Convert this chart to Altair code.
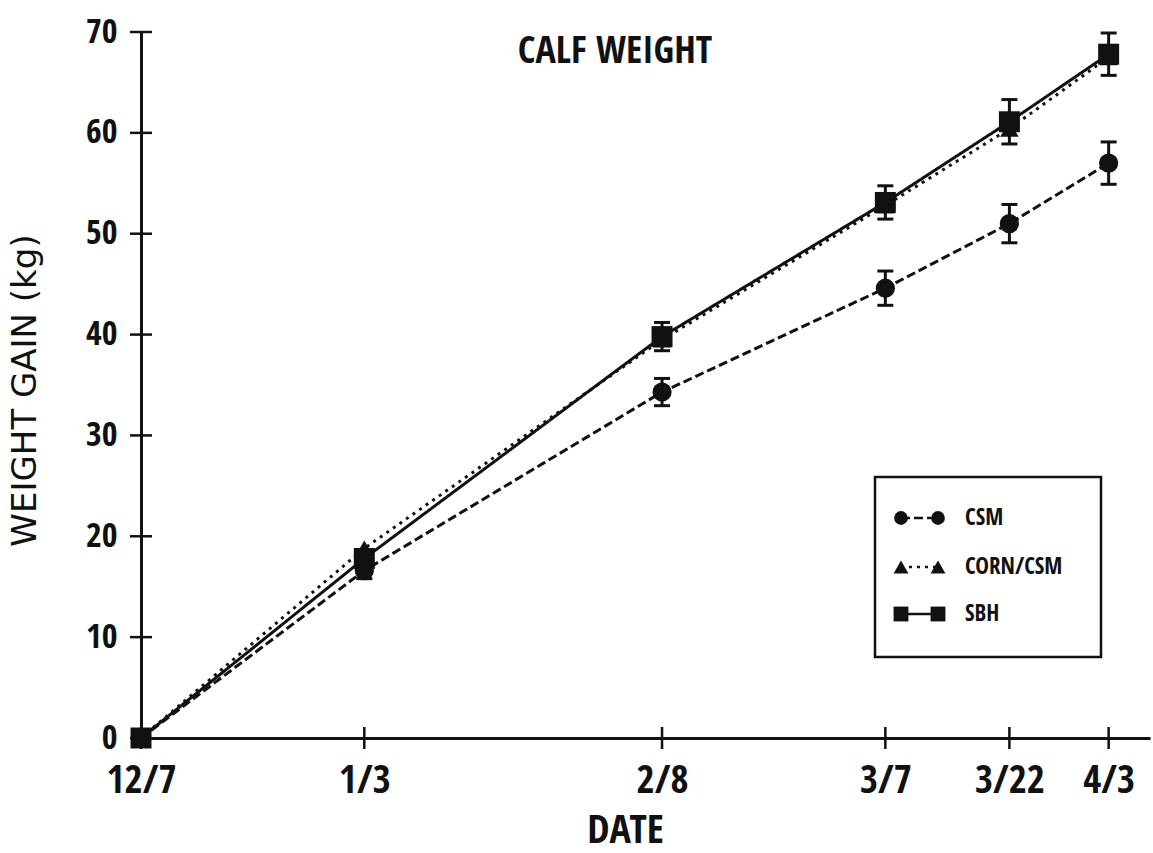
import json
import altair as alt
import pandas as pd

# Days since 12/7 for each weighing, and the date labels shown on the axis
days = [0, 27, 63, 90, 105, 117]
date_labels = ["12/7", "1/3", "2/8", "3/7", "3/22", "4/3"]

# Mean weight gain (kg) per treatment
csm = [0, 16.6, 34.3, 44.6, 51.0, 57.0]
corn_csm = [0, 18.8, 39.5, 52.8, 60.4, 67.5]
sbh = [0, 17.8, 39.8, 53.1, 61.1, 67.8]

# Standard errors (kg)
csm_se = [0, 0.8, 1.35, 1.7, 1.9, 2.1]
sbh_se = [0, 0.8, 1.4, 1.65, 2.2, 2.1]

y_ticks = [0, 10, 20, 30, 40, 50, 60, 70]

INK = "#111111"
NARROW = "'Open Sans Condensed', 'Roboto Condensed', 'DejaVu Sans Condensed', sans-serif"
PLAIN = "'DejaVu Sans', sans-serif"

X_TITLE = "DATE"
Y_TITLE = "WEIGHT GAIN (kg)"

x_scale = alt.Scale(domain=[0, 122], nice=False, zero=False)
y_scale = alt.Scale(domain=[0, 70], nice=False)

label_expr = "{}[indexof({}, datum.value)]".format(json.dumps(date_labels), json.dumps(days))

x_axis = alt.Axis(
    values=days, labelExpr=label_expr, ticks=False, tickSize=0, grid=False,
    domainWidth=3, domainColor=INK, labelFont=NARROW, labelFontSize=39,
    labelFontWeight="bold", labelColor=INK, labelPadding=23, labelOverlap=False,
    labelFlush=False, titleFont=NARROW, titleFontSize=40,
    titleFontWeight="bold", titleColor=INK, titleX=484, titleY=72,
)
y_axis = alt.Axis(
    values=y_ticks, ticks=False, tickSize=0, grid=False, domainWidth=3,
    domainColor=INK, labelFont=NARROW, labelFontSize=34, labelFontWeight="bold",
    labelColor=INK, labelPadding=24, titleFont=PLAIN,
    titleFontSize=34, titleFontWeight="normal", titleColor=INK, titleX=-99,
    titleY=358,
)


def xq(field):
    return alt.X(field, scale=x_scale, axis=x_axis, title=X_TITLE)


def yq(field):
    return alt.Y(field, scale=y_scale, axis=y_axis, title=Y_TITLE)


series = [
    ("CSM", csm, csm_se, "circle", [9, 4], 370, 190),
    ("CORN/CSM", corn_csm, None, "triangle-up", [3, 5], 340, 220),
    ("SBH", sbh, sbh_se, "square", [1, 0], 440, 220),
]

lines, bars, points = [], [], []
for name, vals, se, shape, dash, size, _ in series:
    df = pd.DataFrame({"day": days, "gain": vals, "series": name})
    base = alt.Chart(df)
    lines.append(
        base.mark_line(color=INK, strokeWidth=3, strokeDash=dash, strokeCap="butt")
        .encode(x=xq("day:Q"), y=yq("gain:Q"))
    )
    points.append(
        base.mark_point(shape=shape, size=size, filled=True, color=INK, opacity=1)
        .encode(x=xq("day:Q"), y=yq("gain:Q"))
    )
    if se is not None:
        edf = pd.DataFrame({
            "day": days,
            "lo": [v - e for v, e in zip(vals, se)],
            "hi": [v + e for v, e in zip(vals, se)],
        })
        edf = edf[edf["day"] > 0]
        eb = alt.Chart(edf)
        bars.append(
            eb.mark_rule(color=INK, strokeWidth=3).encode(
                x=xq("day:Q"), y=yq("lo:Q"), y2="hi:Q"
            )
        )
        for end in ("lo", "hi"):
            bars.append(
                eb.mark_tick(orient="horizontal", size=16, thickness=3, color=INK, opacity=1)
                .encode(x=xq("day:Q"), y=yq(f"{end}:Q"))
            )

# Tick marks that cross the axis lines
ytick_df = pd.DataFrame({"v": y_ticks, "z": 0})
xtick_df = pd.DataFrame({"d": days, "z": 0})
axis_ticks = [
    alt.Chart(ytick_df).mark_tick(orient="horizontal", size=22, thickness=2.5, color=INK, opacity=1)
    .encode(x=xq("z:Q"), y=yq("v:Q")),
    alt.Chart(xtick_df).mark_tick(orient="vertical", size=22, thickness=2.5, color=INK, opacity=1)
    .encode(x=xq("d:Q"), y=yq("z:Q")),
]

# Title inside the plot
title = alt.Chart(pd.DataFrame({"t": ["CALF WEIGHT"]})).mark_text(
    font=NARROW, fontSize=38, fontWeight="bold", color=INK, align="center",
    baseline="alphabetic",
).encode(x=alt.value(474), y=alt.value(31), text="t:N")

# Legend box with line/marker samples
one = pd.DataFrame({"a": [0]})
legend = [
    alt.Chart(one).mark_rect(fill="white", stroke=INK, strokeWidth=2.5).encode(
        x=alt.value(734), x2=alt.value(960), y=alt.value(445), y2=alt.value(625)
    )
]
row_y = [486, 535, 582]
for (name, vals, se, shape, dash, size, lsize), ry in zip(series, row_y):
    legend.append(
        alt.Chart(one).mark_rule(color=INK, strokeWidth=2.5, strokeDash=dash).encode(
            x=alt.value(760), x2=alt.value(797), y=alt.value(ry)
        )
    )
    for px in (760, 797):
        legend.append(
            alt.Chart(one).mark_point(shape=shape, size=lsize, filled=True, color=INK, opacity=1)
            .encode(x=alt.value(px), y=alt.value(ry))
        )
    legend.append(
        alt.Chart(pd.DataFrame({"t": [name]})).mark_text(
            font=NARROW, fontSize=23, fontWeight="bold", color=INK, align="left",
            baseline="middle",
        ).encode(x=alt.value(824), y=alt.value(ry), text="t:N")
    )

chart = alt.layer(*lines, *axis_ticks, *bars, *points, title, *legend).properties(
    width=1009,
    height=706,
    padding={"left": 141, "top": 32, "right": 3, "bottom": 115},
    autosize=alt.AutoSizeParams(type="none"),
    background="white",
).configure_view(stroke=None)

chart.save("out.html", embed_options={"renderer": "svg", "actions": False})
